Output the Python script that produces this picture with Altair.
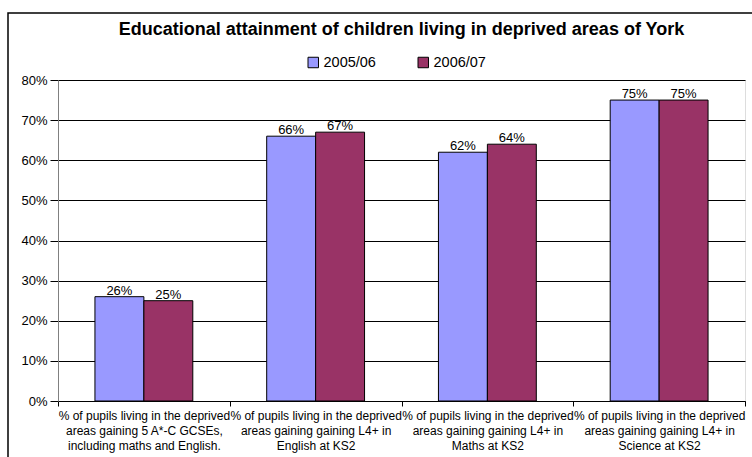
import altair as alt
import pandas as pd

categories = [
    "% of pupils living in the deprived|areas gaining 5 A*-C GCSEs,|including maths and English.",
    "% of pupils living in the deprived|areas gaining gaining L4+ in|English at KS2",
    "% of pupils living in the deprived|areas gaining gaining L4+ in|Maths at KS2",
    "% of pupils living in the deprived|areas gaining gaining L4+ in|Science at KS2",
]
years = ["2005/06", "2006/07"]
values_0506 = [26, 66, 62, 75]
values_0607 = [25, 67, 64, 75]
colors = ["#9999FF", "#993366"]
title_text = "Educational attainment of children living in deprived areas of York"

rows = []
for c, a, b in zip(categories, values_0506, values_0607):
    rows.append({"cat": c, "year": years[0], "value": a})
    rows.append({"cat": c, "year": years[1], "value": b})
df = pd.DataFrame(rows)

FONT = "Liberation Sans"

x = alt.X("cat:N", sort=categories, title=None,
          scale=alt.Scale(paddingInner=0, paddingOuter=0),
          axis=alt.Axis(labelAngle=0, labelFontSize=12, labelLineHeight=15,
                        labelExpr="split(datum.label, '|')", labelLimit=300,
                        labelPadding=4, labelBaseline="top", tickBand="extent",
                        tickSize=5, tickColor="black", domainColor="black",
                        labelColor="black", labelFont=FONT, grid=False))
xo = alt.XOffset("year:N", sort=years, scale=alt.Scale(paddingOuter=0.755, paddingInner=0))
y = alt.Y("value:Q", title=None,
          scale=alt.Scale(domain=[0, 80], nice=False),
          axis=alt.Axis(values=list(range(0, 81, 10)), labelExpr="datum.value + '%'",
                        labelFontSize=13, labelFont=FONT, labelColor="black",
                        tickSize=8, tickColor="black", labelPadding=3,
                        domainColor="#808080", gridColor="black", gridWidth=1))

base = alt.Chart(df)

bars = base.mark_bar(stroke="black", strokeWidth=1).encode(
    x=x, xOffset=xo, y=y,
    color=alt.Color("year:N", sort=years, scale=alt.Scale(domain=years, range=colors),
                    legend=alt.Legend(title=None, orient="none", direction="horizontal",
                                      legendX=248, legendY=-25, symbolType="square",
                                      symbolSize=110, symbolStrokeColor="black",
                                      symbolStrokeWidth=1, labelFontSize=14.5,
                                      labelFont=FONT, labelColor="black",
                                      columnPadding=40, labelOffset=3, symbolOpacity=1)),
)

labels = base.transform_calculate(lab="datum.value + '%'").mark_text(
    baseline="alphabetic", dy=-2, fontSize=13, font=FONT, color="black"
).encode(x=x, xOffset=xo, y=y, text="lab:N")

frame = alt.Chart(pd.DataFrame({"a": [0]})).mark_rect(
    fill=None, stroke="black", strokeWidth=1.5, clip=False
).encode(x=alt.value(-50), x2=alt.value(740), y=alt.value(-67), y2=alt.value(420))

chart = alt.layer(frame, bars, labels).properties(
    width=687, height=321,
    autosize=alt.AutoSizeParams(type="none"),
    padding={"left": 58, "top": 80, "right": 7, "bottom": 56},
    title=alt.TitleParams(title_text, fontSize=18, font=FONT, fontWeight="bold",
                          color="black", anchor="middle", baseline="alphabetic", offset=-41),
).configure_view(fill="#C0C0C0", stroke="#808080", strokeWidth=1).configure(background="white")

chart.save("out.html", embed_options={"renderer": "svg", "actions": False})
